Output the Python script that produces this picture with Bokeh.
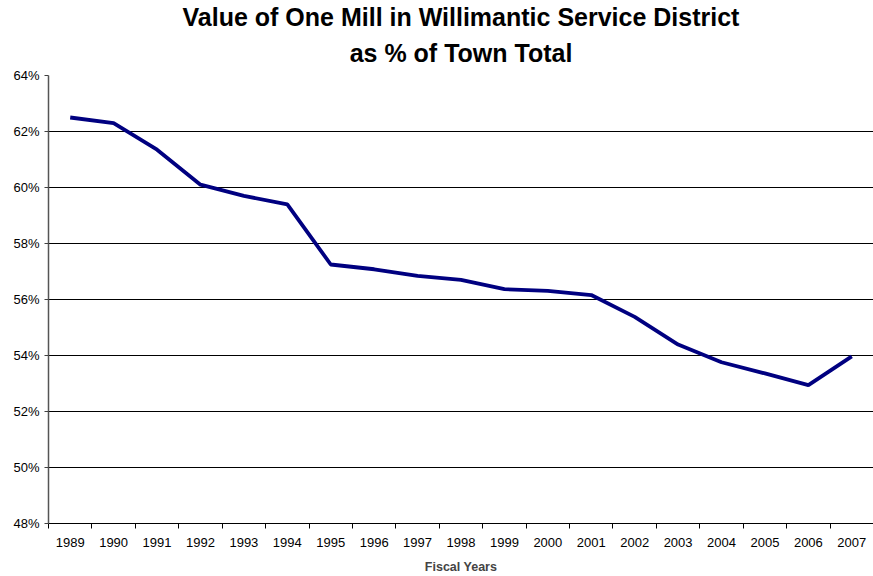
from bokeh.plotting import figure
from bokeh.models import FixedTicker, PrintfTickFormatter, Title, Range1d
from bokeh.embed import file_html
from bokeh.resources import INLINE

# ---- data ----
years = [1989, 1990, 1991, 1992, 1993, 1994, 1995, 1996, 1997, 1998,
         1999, 2000, 2001, 2002, 2003, 2004, 2005, 2006, 2007]
share_pct = [62.5, 62.3, 61.35, 60.1, 59.7, 59.4, 57.25, 57.08, 56.84, 56.7,
             56.37, 56.31, 56.16, 55.38, 54.39, 53.76, 53.36, 52.94, 53.97]
y_ticks = [48, 50, 52, 54, 56, 58, 60, 62, 64]
title_line1 = "Value of One Mill in Willimantic Service District"
title_line2 = "as % of Town Total"
x_title = "Fiscal Years"

FONT = "Liberation Sans"

p = figure(width=873, height=576, output_backend="svg", toolbar_location=None,
           x_range=Range1d(years[0] - 0.5, years[-1] + 0.5),
           y_range=Range1d(y_ticks[0], y_ticks[-1]),
           min_border_left=48, min_border_right=0, min_border_top=75,
           min_border_bottom=52)
p.background_fill_color = "white"
p.border_fill_color = "white"
p.outline_line_color = None

p.title.text = title_line1
p.title.text_font = FONT
p.title.text_font_size = "25px"
p.title.text_font_style = "bold"
p.title.align = "center"
p.title.text_color = "black"
p.title.standoff = -5
p.add_layout(Title(text=title_line2, text_font=FONT, text_font_size="25px",
                   text_font_style="bold", align="center", text_color="black",
                   standoff=17),
             "above")

# x axis
xa = p.xaxis[0]
xa.ticker = FixedTicker(ticks=years,
                        minor_ticks=[y - 0.5 for y in years] + [years[-1] + 0.5])
xa.formatter = PrintfTickFormatter(format="%d")
xa.major_tick_line_color = None
xa.minor_tick_in = 0
xa.minor_tick_out = 5
xa.minor_tick_line_color = "black"
xa.axis_line_color = "black"
xa.major_label_text_font = FONT
xa.major_label_text_font_size = "13px"
xa.major_label_text_color = "black"
xa.major_label_standoff = 8
xa.axis_label = x_title
xa.axis_label_text_font = FONT
xa.axis_label_text_font_size = "12.5px"
xa.axis_label_text_font_style = "bold"
xa.axis_label_standoff = 10

# y axis
ya = p.yaxis[0]
ya.ticker = FixedTicker(ticks=y_ticks, minor_ticks=[])
ya.formatter = PrintfTickFormatter(format="%d%%")
ya.major_tick_in = 0
ya.major_tick_out = 4
ya.major_tick_line_color = "#404040"
ya.minor_tick_line_color = None
ya.axis_line_color = "#555555"
ya.axis_line_width = 1.5
ya.major_label_text_font = FONT
ya.major_label_text_font_size = "13px"
ya.major_label_text_color = "black"
ya.major_label_standoff = 5

p.xgrid.grid_line_color = None
p.ygrid.ticker = FixedTicker(ticks=y_ticks)
p.ygrid.grid_line_color = "black"
p.ygrid.grid_line_width = 1

p.line(years, share_pct, line_color="#000080", line_width=3.8)

open("out.html", "w").write(file_html(p, INLINE))
